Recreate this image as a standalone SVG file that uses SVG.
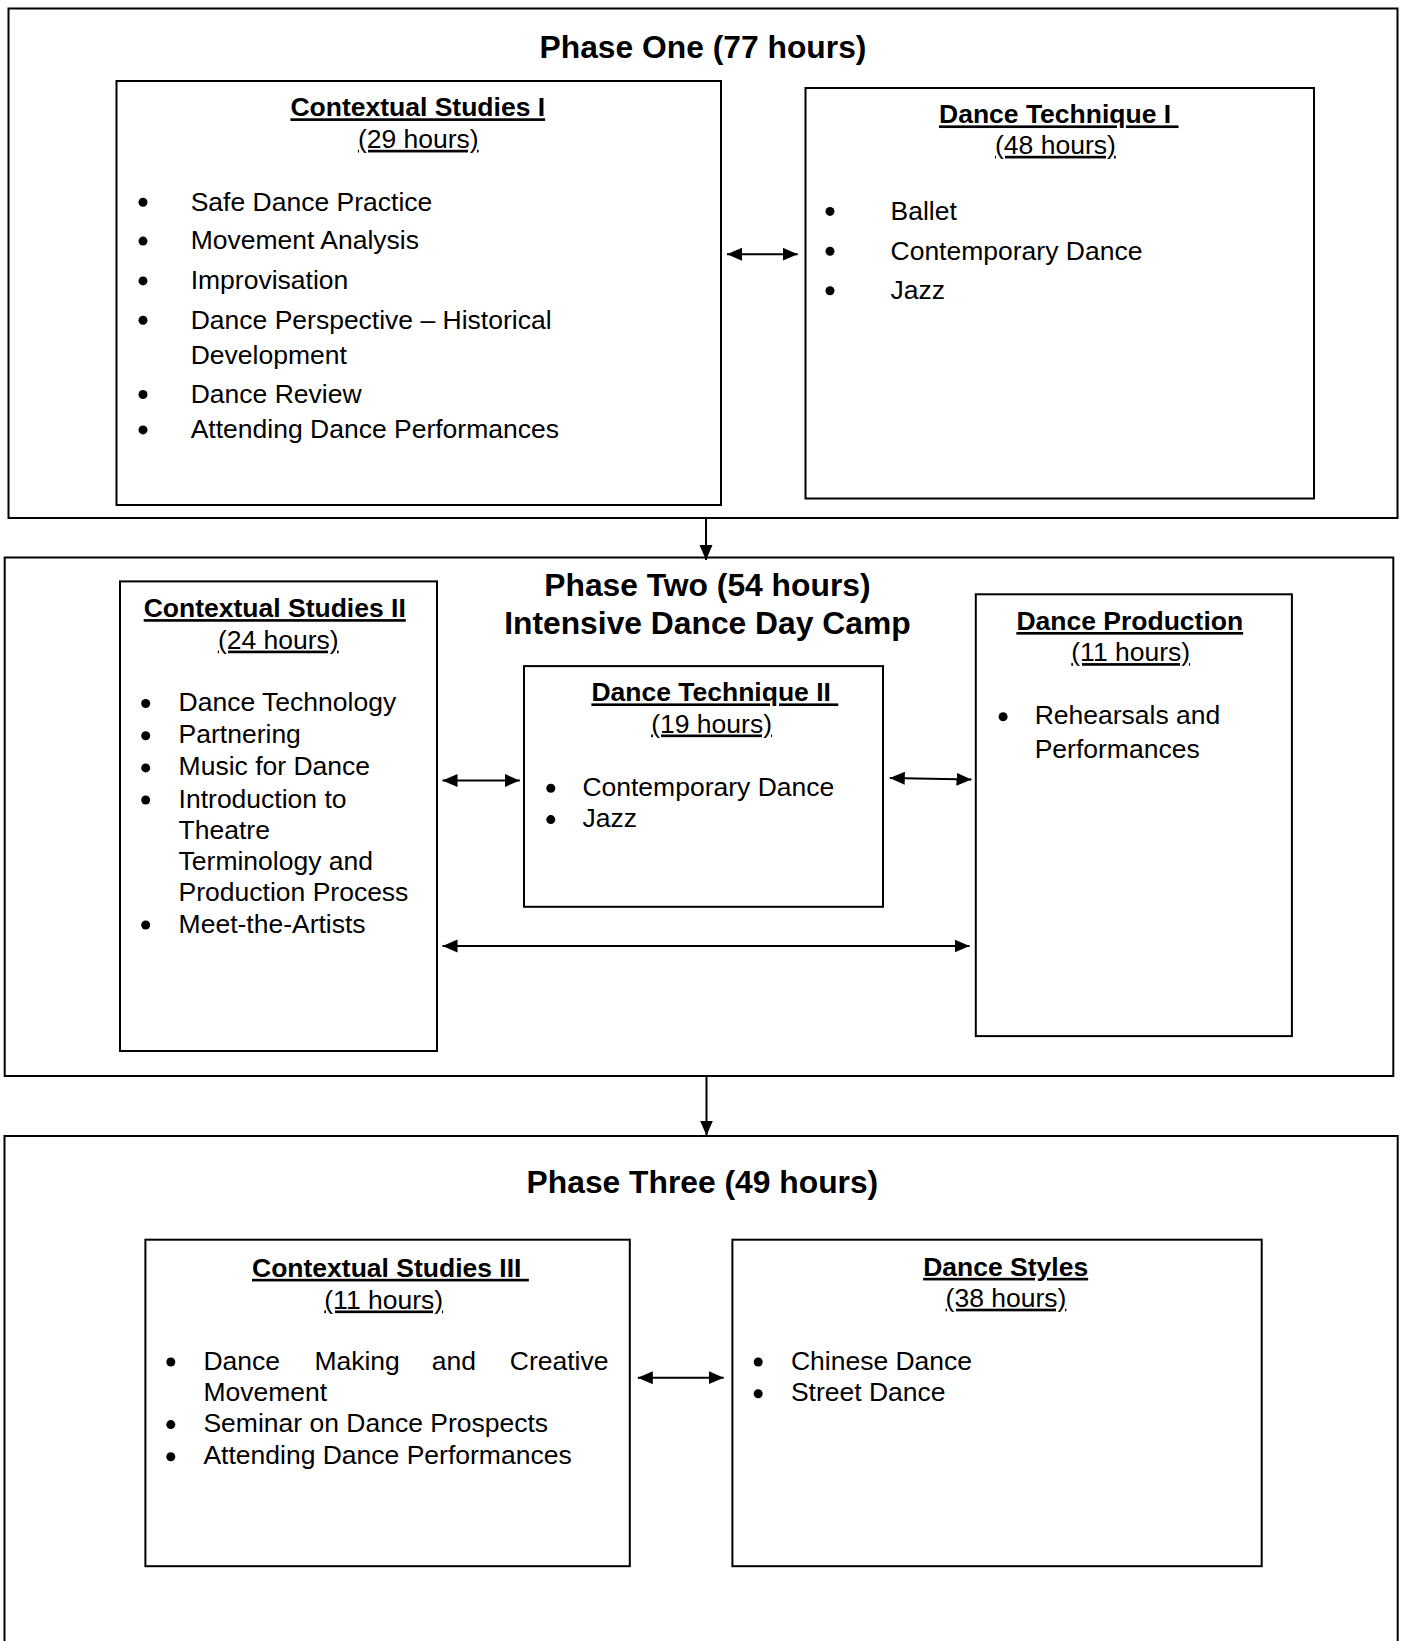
<svg xmlns="http://www.w3.org/2000/svg" width="1403" height="1641" viewBox="0 0 1403 1641">
<defs>
<style>
text{font-family:"Liberation Sans",Arial,sans-serif;fill:#000}
.ph{font-size:31.8px;font-weight:bold;text-anchor:middle}
.hd{font-size:26.5px;font-weight:bold;text-decoration:underline}
.hr{font-size:26.5px;text-decoration:underline}
.it{font-size:26.5px}
.box{fill:#fff;stroke:#000;stroke-width:2}
.outer{fill:none;stroke:#000;stroke-width:2}
.con{stroke:#000;stroke-width:2;fill:none}
.dbl{marker-start:url(#ah);marker-end:url(#ah)}
.one{marker-end:url(#ah)}
.bul{fill:#000}
</style>
<marker id="ah" markerUnits="userSpaceOnUse" markerWidth="16" markerHeight="14" refX="15" refY="6.5" orient="auto-start-reverse">
<path d="M0,0 L15,6.5 L0,13 z" fill="#000"/>
</marker>
</defs>
<rect width="1403" height="1641" fill="#fff"/>

<g id="phase1">
<rect class="outer" x="8.5" y="8.5" width="1389" height="509.5"/>
<text class="ph" x="703" y="57.5">Phase One (77 hours)</text>
</g>

<g id="cs1">
<rect class="box" x="116.5" y="81" width="604.5" height="424"/>
<text class="hd" x="290.4" y="116.3">Contextual Studies I</text>
<text class="hr" x="357.9" y="147.8">(29 hours)</text>
<circle class="bul" cx="143" cy="202.3" r="4.5"/>
<text class="it" x="190.7" y="210.6">Safe Dance Practice</text>
<circle class="bul" cx="143" cy="241.1" r="4.5"/>
<text class="it" x="190.7" y="249.4">Movement Analysis</text>
<circle class="bul" cx="143" cy="280.9" r="4.5"/>
<text class="it" x="190.7" y="289.2">Improvisation</text>
<circle class="bul" cx="143" cy="320.3" r="4.5"/>
<text class="it" x="190.7" y="328.6">Dance Perspective – Historical</text>
<text class="it" x="190.7" y="364">Development</text>
<circle class="bul" cx="143" cy="394.5" r="4.5"/>
<text class="it" x="190.7" y="402.8">Dance Review</text>
<circle class="bul" cx="143" cy="429.9" r="4.5"/>
<text class="it" x="190.7" y="438.2">Attending Dance Performances</text>
</g>

<g id="dt1">
<rect class="box" x="805.5" y="88" width="508.5" height="410.5"/>
<text class="hd" x="939" y="123.4" xml:space="preserve">Dance Technique I </text>
<text class="hr" x="995" y="153.8">(48 hours)</text>
<circle class="bul" cx="830" cy="211.4" r="4.5"/>
<text class="it" x="890.5" y="219.7">Ballet</text>
<circle class="bul" cx="830" cy="251.3" r="4.5"/>
<text class="it" x="890.5" y="259.6">Contemporary Dance</text>
<circle class="bul" cx="830" cy="290.8" r="4.5"/>
<text class="it" x="890.5" y="299.1">Jazz</text>
</g>

<g id="phase2">
<rect class="outer" x="4.7" y="557.5" width="1388.6" height="518.5"/>
<text class="ph" x="707.4" y="595.7">Phase Two (54 hours)</text>
<text class="ph" x="707.4" y="633.6">Intensive Dance Day Camp</text>
</g>

<g id="cs2">
<rect class="box" x="120" y="581.4" width="317" height="469.6"/>
<text class="hd" x="143.7" y="617.1">Contextual Studies II</text>
<text class="hr" x="217.9" y="648.6">(24 hours)</text>
<circle class="bul" cx="145.7" cy="703.5" r="4.5"/>
<text class="it" x="178.6" y="711">Dance Technology</text>
<circle class="bul" cx="145.7" cy="735.7" r="4.5"/>
<text class="it" x="178.6" y="743.2">Partnering</text>
<circle class="bul" cx="145.7" cy="767.9" r="4.5"/>
<text class="it" x="178.6" y="775.4">Music for Dance</text>
<circle class="bul" cx="145.7" cy="800" r="4.5"/>
<text class="it" x="178.6" y="807.5">Introduction to</text>
<text class="it" x="178.6" y="838.9">Theatre</text>
<text class="it" x="178.6" y="870">Terminology and</text>
<text class="it" x="178.6" y="901.4">Production Process</text>
<circle class="bul" cx="145.7" cy="925" r="4.5"/>
<text class="it" x="178.6" y="932.5">Meet-the-Artists</text>
</g>

<g id="dt2">
<rect class="box" x="524" y="666.1" width="359" height="240.7"/>
<text class="hd" x="591.4" y="701.4" xml:space="preserve">Dance Technique II </text>
<text class="hr" x="651.2" y="732.5">(19 hours)</text>
<circle class="bul" cx="550.8" cy="788.2" r="4.5"/>
<text class="it" x="582.4" y="795.7">Contemporary Dance</text>
<circle class="bul" cx="550.8" cy="819.6" r="4.5"/>
<text class="it" x="582.4" y="827.1">Jazz</text>
</g>

<g id="dp">
<rect class="box" x="975.8" y="594.3" width="316.1" height="441.8"/>
<text class="hd" x="1016.4" y="630">Dance Production</text>
<text class="hr" x="1071.3" y="661.1">(11 hours)</text>
<circle class="bul" cx="1003.1" cy="716.8" r="4.5"/>
<text class="it" x="1034.7" y="724.3">Rehearsals and</text>
<text class="it" x="1034.7" y="757.5">Performances</text>
</g>

<g id="phase3">
<rect class="outer" x="4.5" y="1136" width="1393.2" height="530"/>
<text class="ph" x="702.4" y="1193">Phase Three (49 hours)</text>
</g>

<g id="cs3">
<rect class="box" x="145.4" y="1239.7" width="484.4" height="326.5"/>
<text class="hd" x="252" y="1276.8" xml:space="preserve">Contextual Studies III </text>
<text class="hr" x="324.3" y="1308.5">(11 hours)</text>
<circle class="bul" cx="170.8" cy="1362" r="4.5"/>
<text class="it" y="1369.7"><tspan x="203.4">Dance</tspan> <tspan x="314.4">Making</tspan> <tspan x="431.8">and</tspan> <tspan x="509.8">Creative</tspan></text>
<text class="it" x="203.4" y="1400.7">Movement</text>
<circle class="bul" cx="170.8" cy="1424.6" r="4.5"/>
<text class="it" x="203.4" y="1432.3">Seminar on Dance Prospects</text>
<circle class="bul" cx="170.8" cy="1456.7" r="4.5"/>
<text class="it" x="203.4" y="1464.4">Attending Dance Performances</text>
</g>

<g id="ds">
<rect class="box" x="732.4" y="1239.7" width="529.3" height="326.5"/>
<text class="hd" x="923.2" y="1275.8">Dance Styles</text>
<text class="hr" x="945.6" y="1306.7">(38 hours)</text>
<circle class="bul" cx="758.2" cy="1362" r="4.5"/>
<text class="it" x="790.9" y="1369.7">Chinese Dance</text>
<circle class="bul" cx="758.2" cy="1393.7" r="4.5"/>
<text class="it" x="790.9" y="1401.4">Street Dance</text>
</g>

<g id="connectors">
<line class="con dbl" x1="727" y1="254.2" x2="797.7" y2="254.2"/>
<line class="con one" x1="706" y1="518" x2="706" y2="560"/>
<line class="con dbl" x1="442.5" y1="780.5" x2="519.8" y2="780.5"/>
<line class="con dbl" x1="889.8" y1="777.9" x2="971.5" y2="779.6"/>
<line class="con dbl" x1="442.5" y1="946" x2="969.5" y2="946"/>
<line class="con one" x1="706.5" y1="1076" x2="706.5" y2="1135.5"/>
<line class="con dbl" x1="637.8" y1="1377.7" x2="723.7" y2="1377.7"/>
</g>
</svg>
